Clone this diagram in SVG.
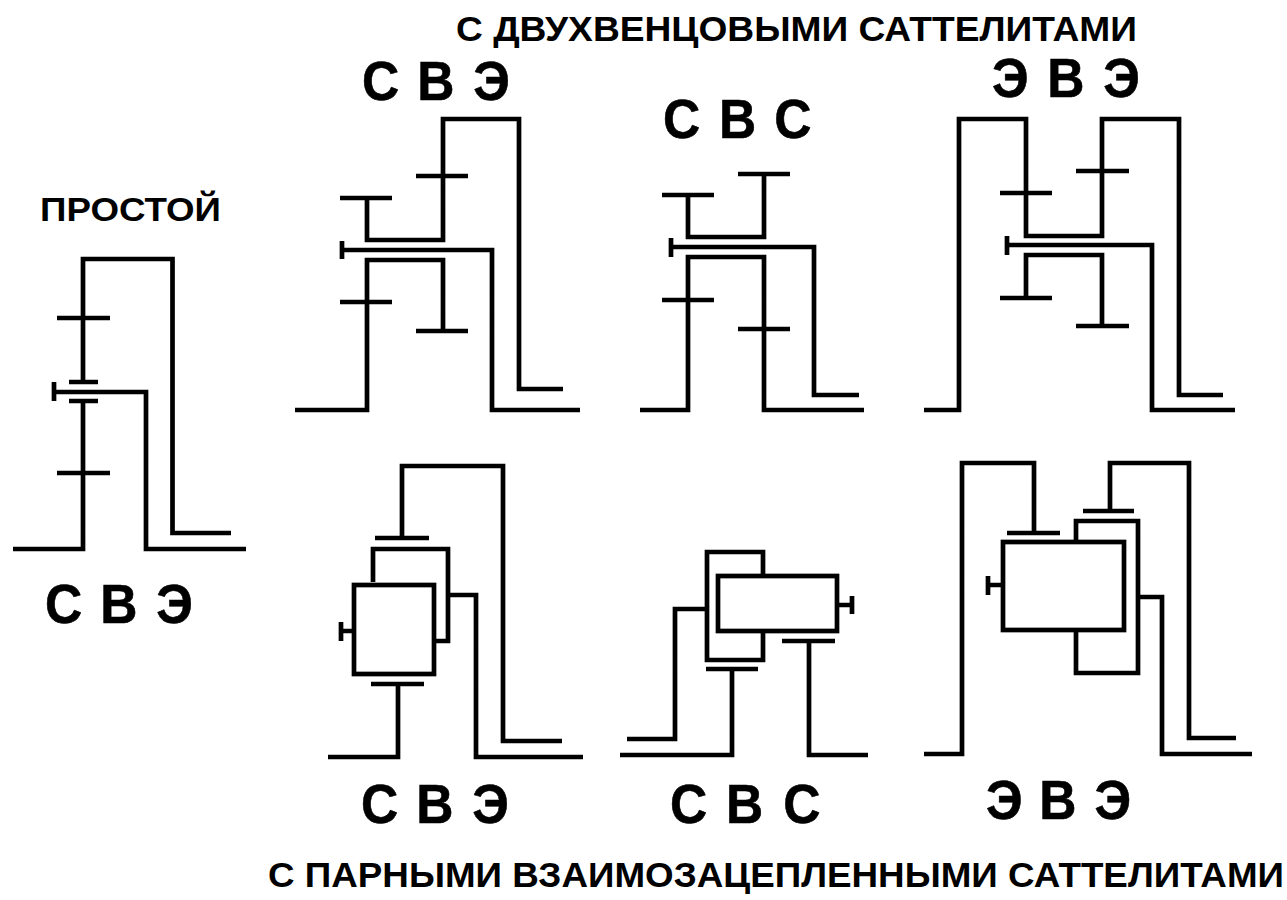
<svg xmlns="http://www.w3.org/2000/svg" width="1287" height="900" viewBox="0 0 1287 900">
<style>
.l{fill:none;stroke:#000;stroke-width:4.7;stroke-linejoin:miter;stroke-linecap:butt}
.t{font-family:"Liberation Sans",Arial,sans-serif;font-weight:700;fill:#000}
.h{font-size:35px}
.k{font-size:56px;stroke:#000;stroke-width:.6}
</style>
<rect width="1287" height="900" fill="#fff"/>
<g id="title-top"><text class="t h" x="456" y="41" textLength="681" lengthAdjust="spacingAndGlyphs">С ДВУХВЕНЦОВЫМИ САТТЕЛИТАМИ</text></g>
<g id="title-simple"><text class="t" font-size="33" x="40" y="221" textLength="181" lengthAdjust="spacingAndGlyphs">ПРОСТОЙ</text></g>
<g id="title-bottom"><text class="t h" x="268" y="887" textLength="1016" lengthAdjust="spacingAndGlyphs">С ПАРНЫМИ ВЗАИМОЗАЦЕПЛЕННЫМИ САТТЕЛИТАМИ</text></g>
<g id="labels">
<text class="t k" transform="translate(45 623) scale(.92 1)" x="0 60 121">СВЭ</text>
<text class="t k" transform="translate(362 100) scale(.92 1)" x="0 60 121">СВЭ</text>
<text class="t k" transform="translate(663 138) scale(.92 1)" x="0 61 121">СВС</text>
<text class="t k" transform="translate(992 97) scale(.92 1)" x="0 60 121">ЭВЭ</text>
<text class="t k" transform="translate(361 823) scale(.92 1)" x="0 60 121">СВЭ</text>
<text class="t k" transform="translate(670 823) scale(.92 1)" x="0 61 123">СВС</text>
<text class="t k" transform="translate(986 819) scale(.92 1)" x="0 58 118">ЭВЭ</text>
</g>
<g id="connectors">
<g id="simple">
<path class="l" d="M13 549H83V401M69 401H98M69 382H98M83 382V259H172.500V533H231M54 382V401M54 392H146V549H246M57 318H110M57 473H110"/>
</g>
<g id="sve-double">
<path class="l" d="M295 410H367V260H443V331M416 331H468M340 302H392M340 198H392M367 198V240H443V119H519V389H563M416 176H468M342 241V259M342 250H492V410H580"/>
</g>
<g id="svs-double">
<path class="l" d="M640 410H688V257H764V410H864M662 300H714M738 329H790M662 195H714M688 195V237H764V174M738 174H790M671 238V257M671 247H814V395H859"/>
</g>
<g id="eve-double">
<path class="l" d="M924 410H959V119H1026V236H1102V119H1179V395H1223M1000 193H1052M1076 171H1129M1000 298H1052M1026 298V255H1102V326M1076 326H1129M1007 236V255M1007 245H1152V410H1235"/>
</g>
<g id="sve-paired">
<path class="l" d="M375 538H429M402 538V466H503V741H562"/>
<rect class="l" x="354" y="585" width="80" height="89"/>
<path class="l" d="M373 582V549H448V641H434M448 595H476V757H583M341 622V641M341 631H354M371 684H424M398 684V757H328"/>
</g>
<g id="svs-paired">
<rect class="l" x="718" y="576" width="119" height="55"/>
<path class="l" d="M763 576V552H707V660H763V631M852 596V614M837 605H852M707 609H675V739H627M706 669H758M732 669V755H620M782 641H835M809 641V755H868"/>
</g>
<g id="eve-paired">
<rect class="l" x="1003" y="542" width="121" height="88"/>
<path class="l" d="M924 754H962V463H1034V533M1007 533H1060M1083 511H1134M1110 511V463H1189V738H1236M1076 542V521H1138V673H1076V630M1138 597H1162V754H1252M988 576V595M988 585H1003"/>
</g>
</g>
</svg>
